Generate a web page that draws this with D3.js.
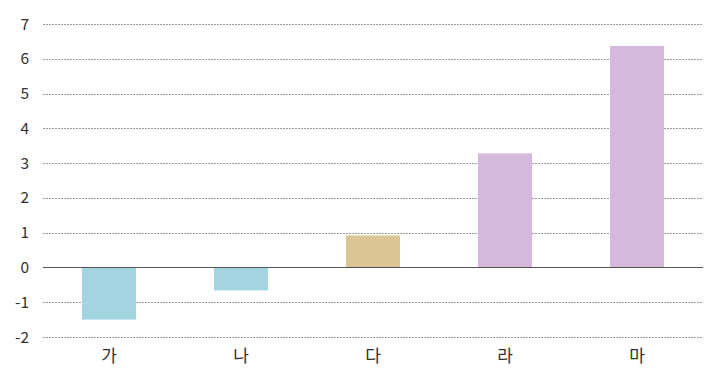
<!DOCTYPE html>
<html>
<head>
<meta charset="utf-8">
<script src="https://cdn.jsdelivr.net/npm/d3@7"></script>
<style>
  body { margin: 0; background: #fff; }
  text { font-family: "Noto Sans CJK KR", "Noto Sans", sans-serif; fill: #333; }
</style>
</head>
<body>
<div id="chart"></div>
<script>
// data
const categories = ['가', '나', '다', '라', '마'];
const values = [-1.5, -0.66, 0.92, 3.28, 6.37];
const barColors = ['#a3d5e0', '#a3d5e0', '#dcc594', '#d4b9dd', '#d4b9dd'];
const yTicks = [-2, -1, 0, 1, 2, 3, 4, 5, 6, 7];

const margin = {top: 24, right: 17, bottom: 41, left: 43},
    width = 720 - margin.left - margin.right,
    height = 378 - margin.top - margin.bottom;

const svg = d3.select('#chart')
    .append('svg')
    .attr('width', 720)
    .attr('height', 378)
    .append('g')
    .attr('transform', 'translate(' + margin.left + ',' + margin.top + ')');

const xScale = d3.scaleBand()
    .domain(categories)
    .range([0, width])
    .paddingInner(0.59)
    .paddingOuter(0.295);

const yScale = d3.scaleLinear()
    .domain([-2, 7])
    .range([height, 0]);

// grid
svg.append('g')
    .selectAll('line')
    .data(yTicks.filter(d => d !== 0))
    .join('line')
    .attr('x1', 0)
    .attr('x2', width)
    .attr('y1', d => Math.round(yScale(d)) + 0.5)
    .attr('y2', d => Math.round(yScale(d)) + 0.5)
    .attr('stroke', '#9a9a9a')
    .attr('stroke-width', 1)
    .attr('stroke-dasharray', '2,1');

// y labels
svg.append('g')
    .selectAll('text')
    .data(yTicks)
    .join('text')
    .attr('x', -14)
    .attr('y', d => yScale(d))
    .attr('dy', '0.36em')
    .attr('text-anchor', 'end')
    .style('font-size', '15.5px')
    .text(d => d);

// bars
svg.append('g')
    .selectAll('rect')
    .data(values)
    .join('rect')
    .attr('x', (d, i) => xScale(categories[i]))
    .attr('width', xScale.bandwidth())
    .attr('y', d => yScale(Math.max(0, d)))
    .attr('height', d => Math.abs(yScale(d) - yScale(0)))
    .attr('fill', (d, i) => barColors[i]);

// zero line
svg.append('line')
    .attr('x1', 0)
    .attr('x2', width)
    .attr('y1', Math.round(yScale(0)) + 0.5)
    .attr('y2', Math.round(yScale(0)) + 0.5)
    .attr('stroke', '#555')
    .attr('stroke-width', 1.2);

// x labels
svg.append('g')
    .selectAll('text')
    .data(categories)
    .join('text')
    .attr('x', d => xScale(d) + xScale.bandwidth() / 2)
    .attr('y', height + 25)
    .attr('text-anchor', 'middle')
    .style('font-size', '17px')
    .text(d => d);
</script>
</body>
</html>
